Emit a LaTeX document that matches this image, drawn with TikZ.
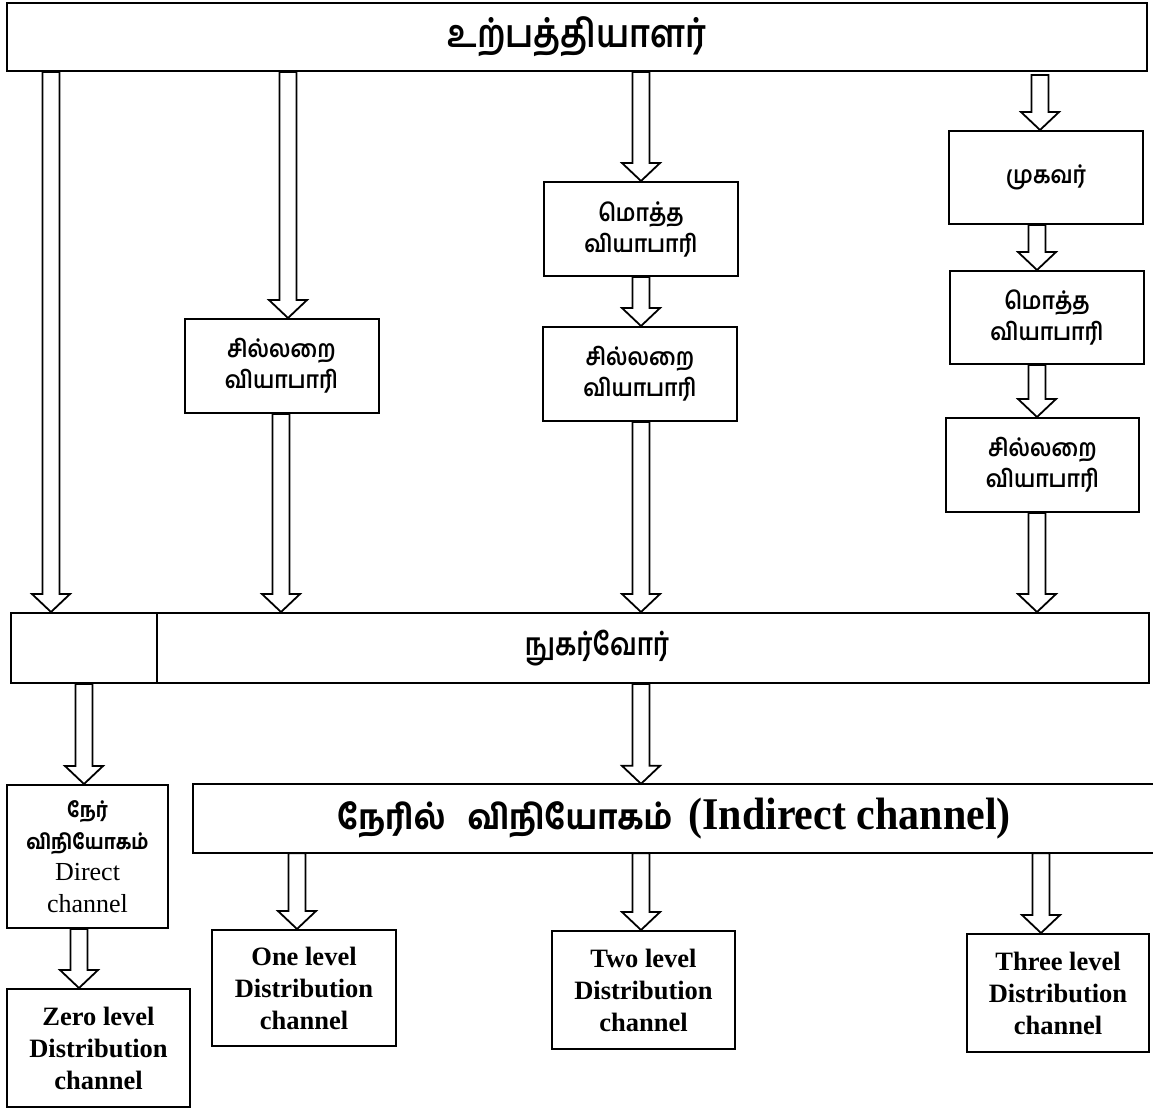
\documentclass[tikz,border=0pt]{standalone}
\usepackage{fontspec}
\setmainfont{Liberation Serif}
\newfontfamily\tamil[Script=Tamil, UprightFont=* SemiBold]{Hind Madurai}
\newfontfamily\tamilbf[Script=Tamil]{Hind Madurai Bold}
\newcommand{\tsc}[1]{\scalebox{1}[1.12]{#1}}
\usetikzlibrary{calc}
\tikzset{
  boxline/.style={line width=2pt},
  box/.style={draw, boxline, fill=white, inner sep=0pt, align=center},
  tbox/.style={box, font=\tamil\fontsize{21.5}{31}\selectfont, minimum width=194pt, minimum height=94pt},
  lbox/.style={box, font=\bfseries\fontsize{26.5}{32}\selectfont},
  blockarr/.style={draw, line width=1.8pt, fill=white, line join=miter,
    to path={let \p1=(\tikztostart), \p2=(\tikztotarget) in
      (\x1-8.5pt,\y1) -- (\x1-8.5pt,\y2+18pt) -- (\x1-19pt,\y2+18pt) -- (\x1,\y2)
      -- (\x1+19pt,\y2+18pt) -- (\x1+8.5pt,\y2+18pt) -- (\x1+8.5pt,\y1) -- cycle}}
}
\begin{document}
\begin{tikzpicture}[x=1pt,y=-1pt]
\useasboundingbox[fill=white] (0,0) rectangle (1153,1109);

% boxes
\node[box, minimum width=1140pt, minimum height=68pt, font=\tamil\fontsize{33.5}{40}\selectfont] (prod) at (577,37) {\scalebox{1}[1.15]{உற்பத்தியாளர்}};
\node[box, minimum width=1138pt, minimum height=70pt, font=\tamil\fontsize{26}{36}\selectfont] (cons) at (580,648) {\hspace*{34pt}\scalebox{1}[1.2]{நுகர்வோர்}};
\coordinate (div) at (157,648);
\draw[boxline] (div |- cons.north) -- (div |- cons.south);

\node[tbox] (wsl) at (281.5,366) {\tsc{சில்லறை}\\\tsc{வியாபாரி}};
\node[tbox] (wm1) at (641,229) {\tsc{மொத்த}\\\tsc{வியாபாரி}};
\node[tbox] (rm1) at (640,374) {\tsc{சில்லறை}\\\tsc{வியாபாரி}};
\node[tbox, minimum height=93pt] (ag) at (1046,177.5) {\tsc{முகவர்}};
\node[tbox, minimum height=93pt] (wr) at (1047,317.5) {\tsc{மொத்த}\\\tsc{வியாபாரி}};
\node[tbox, minimum width=193pt] (rr) at (1042.5,465) {\tsc{சில்லறை}\\\tsc{வியாபாரி}};

\node[box, minimum width=161pt, minimum height=143pt, font=\fontsize{26}{31.5}\selectfont] (direct) at (87.5,856.5)
  {{\tamilbf\fontsize{18.5}{31}\selectfont\tsc{நேர்}}\\{\tamilbf\fontsize{18.5}{31}\selectfont\tsc{விநியோகம்}}\\Direct\\channel};

\node[inner sep=0pt, minimum width=962pt, minimum height=69pt] (ind) at (674,818.5)
  {{\tamilbf\fontsize{31}{40}\selectfont\scalebox{1}[1.1]{நேரில்}\hspace{22pt}\scalebox{1}[1.1]{விநியோகம்}}\hspace{16pt}{\bfseries\fontsize{42}{44}\selectfont\scalebox{1}[1.08]{(Indirect channel)}}};
\draw[boxline] ([xshift=20pt]ind.north east) -- (ind.north west) -- (ind.south west) -- ([xshift=20pt]ind.south east);

\node[lbox, minimum width=183pt, minimum height=118pt] (zero) at (98.5,1048) {Zero level\\Distribution\\channel};
\node[lbox, minimum width=184pt, minimum height=116pt] (one) at (304,988) {One level\\Distribution\\channel};
\node[lbox, minimum width=183pt, minimum height=118pt] (two) at (643.5,990) {Two level\\Distribution\\channel};
\node[lbox, minimum width=182pt, minimum height=118pt] (three) at (1058,993) {Three level\\Distribution\\channel};

% arrow columns
\coordinate (c1) at (51,0);
\coordinate (c2) at (288,0);
\coordinate (c3) at (641,0);
\coordinate (c4) at (1040,0);
\coordinate (c5) at (1037,0);
\coordinate (c6) at (281,0);
\coordinate (c7) at (84,0);
\coordinate (c8) at (79,0);
\coordinate (c9) at (297,0);
\coordinate (c10) at (1041,0);

\draw[blockarr] (prod.south -| c1) to (cons.north -| c1);
\draw[blockarr] (prod.south -| c2) to (wsl.north -| c2);
\draw[blockarr] (prod.south -| c3) to (wm1.north -| c3);
\draw[blockarr] ([yshift=-3pt]prod.south -| c4) to (ag.north -| c4);
\draw[blockarr] (wm1.south -| c3) to (rm1.north -| c3);
\draw[blockarr] (ag.south -| c5) to (wr.north -| c5);
\draw[blockarr] (wr.south -| c5) to (rr.north -| c5);
\draw[blockarr] (wsl.south -| c6) to (cons.north -| c6);
\draw[blockarr] (rm1.south -| c3) to (cons.north -| c3);
\draw[blockarr] (rr.south -| c5) to (cons.north -| c5);
\draw[blockarr] (cons.south -| c7) to (direct.north -| c7);
\draw[blockarr] (cons.south -| c3) to (ind.north -| c3);
\draw[blockarr] (direct.south -| c8) to (zero.north -| c8);
\draw[blockarr] (ind.south -| c9) to (one.north -| c9);
\draw[blockarr] (ind.south -| c3) to (two.north -| c3);
\draw[blockarr] (ind.south -| c10) to (three.north -| c10);
\end{tikzpicture}
\end{document}
